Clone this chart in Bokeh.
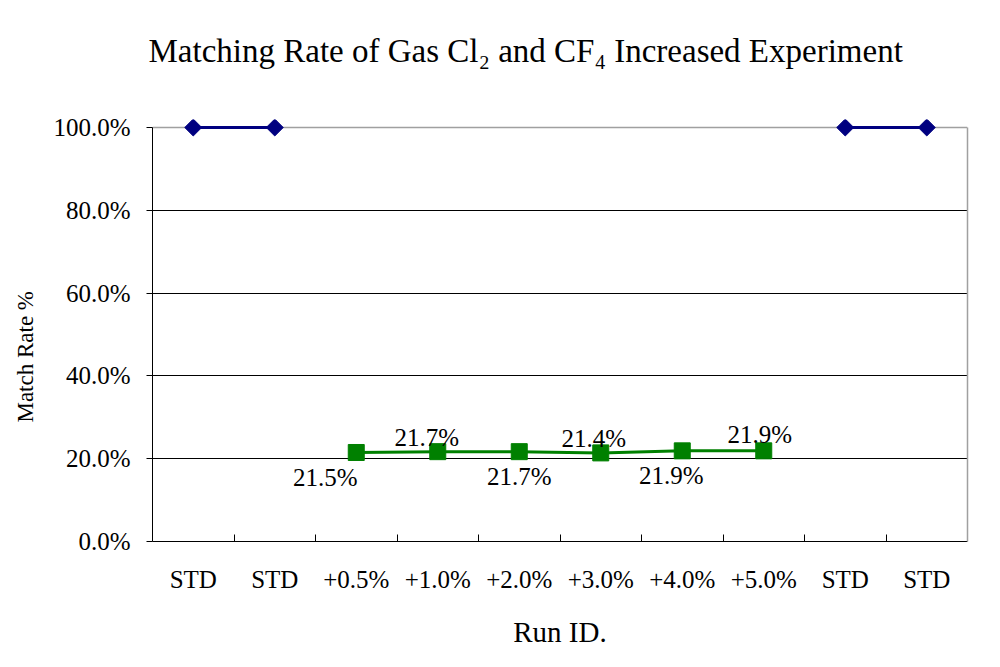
import math
from bokeh.plotting import figure
from bokeh.layouts import row
from bokeh.models import (Range1d, FixedTicker, NumeralTickFormatter, Span,
                          LinearAxis, ColumnDataSource)
from bokeh.core.properties import value
from bokeh.embed import file_html
from bokeh.resources import INLINE

# ---------------- data ----------------
title_text = "Matching Rate of Gas Cl\u2082 and CF\u2084 Increased Experiment"
y_title = "Match Rate %"
x_title = "Run ID."
categories = ["STD", "STD", "+0.5%", "+1.0%", "+2.0%", "+3.0%", "+4.0%", "+5.0%", "STD", "STD"]
std_rate = [1.0, 1.0, None, None, None, None, None, None, 1.0, 1.0]
gas_rate = [None, None, 0.215, 0.217, 0.217, 0.214, 0.219, 0.219, None, None]
y_ticks = [0.0, 0.2, 0.4, 0.6, 0.8, 1.0]

# label placement (style only): pixel offsets for the data labels
label_dx = [-31, -11, 0, -7, -11, -4]
label_dy = [25, -14, 25, -14, 25, -16]

FONT = "Liberation Serif"
NAVY = "#000080"
GREEN = "#008000"
GREY = "#a0a0a0"

xs = list(range(len(categories)))
nan = float("nan")
std_y = [nan if v is None else v for v in std_rate]
gas_y = [nan if v is None else v for v in gas_rate]

W, H = 984, 651
LAB_W = 40                # strip holding the vertical axis title
PLOT_H = 414.0            # pixels for 0..100 %
YPAD = 8 / PLOT_H
XMIN, XMAX = -0.5, len(categories) - 0.5

# ---- strip with the rotated y-axis title ----
lab = figure(width=LAB_W, height=H, output_backend="svg", toolbar_location=None,
             x_range=Range1d(0, LAB_W), y_range=Range1d(0, H),
             min_border=0, min_border_left=0, min_border_right=0,
             min_border_top=0, min_border_bottom=0)
lab.outline_line_color = None
lab.axis.visible = False
lab.grid.visible = False
lab.background_fill_color = "white"
lab.border_fill_color = "white"
lab.text(x=[25], y=[H - 366], text=[y_title], angle=math.pi / 2,
         text_font=value(FONT), text_font_size="23px", text_color="black",
         text_align="center", text_baseline="middle")

# ---- main chart ----
p = figure(width=W - LAB_W, height=H, output_backend="svg", toolbar_location=None,
           x_range=Range1d(XMIN, XMAX),
           y_range=Range1d(0, 1.0 + YPAD),
           min_border_left=152 - LAB_W, min_border_right=17,
           min_border_top=119, min_border_bottom=110)
p.background_fill_color = "white"
p.border_fill_color = "white"
p.outline_line_color = None

xa = p.below[0]
ya = p.left[0]

# invisible spacer between frame and title
spacer = LinearAxis(ticker=FixedTicker(ticks=[(XMIN + XMAX) / 2]), axis_line_color=None,
                    major_tick_line_color="white", minor_tick_line_color=None,
                    major_tick_in=0, major_tick_out=46, major_label_standoff=0,
                    major_label_text_font_size="0px",
                    major_label_overrides={(XMIN + XMAX) / 2: ""})
p.add_layout(spacer, "above")

# title
p.title.text = title_text
p.title.text_font = FONT
p.title.text_font_size = "33px"
p.title.text_font_style = "normal"
p.title.align = "left"
p.title.offset = -4
p.title.standoff = 10
p.title.text_color = "black"

# grid
p.xgrid.grid_line_color = None
p.ygrid.ticker = FixedTicker(ticks=[0.2, 0.4, 0.6, 0.8])
p.ygrid.grid_line_color = "black"
p.ygrid.grid_line_width = 1

# y axis
ya.ticker = FixedTicker(ticks=y_ticks)
ya.formatter = NumeralTickFormatter(format="0.0%")
ya.bounds = (0, 1.0)
ya.axis_line_color = "black"
ya.major_tick_in = 0
ya.major_tick_out = 6
ya.minor_tick_line_color = None
ya.major_label_standoff = 16
ya.major_label_text_font = FONT
ya.major_label_text_font_size = "25px"
ya.major_label_text_color = "black"

# x axis
xa.ticker = FixedTicker(ticks=xs, minor_ticks=[i + 0.5 for i in xs[:-1]])
xa.major_label_overrides = {i: c for i, c in zip(xs, categories)}
xa.axis_line_color = "black"
xa.major_tick_line_color = None
xa.minor_tick_line_color = "black"
xa.minor_tick_in = 7
xa.minor_tick_out = 0
xa.major_label_standoff = 18
xa.major_label_text_font = FONT
xa.major_label_text_font_size = "25px"
xa.major_label_text_color = "black"
xa.axis_label = x_title
xa.axis_label_text_font = FONT
xa.axis_label_text_font_size = "29px"
xa.axis_label_text_font_style = "normal"
xa.axis_label_text_color = "black"
xa.axis_label_standoff = 20

# frame: grey top and right edges
p.add_layout(Span(location=1.0, dimension="width", line_color=GREY, line_width=1.5,
                  level="underlay"))
ra = LinearAxis(bounds=(0, 1.0), ticker=FixedTicker(ticks=[]),
                axis_line_color=GREY, axis_line_width=1.5,
                major_tick_line_color=None, minor_tick_line_color=None,
                major_label_text_font_size="0px", major_label_standoff=0)
p.add_layout(ra, "right")

# series
p.line(xs, std_y, line_color=NAVY, line_width=3)
p.scatter(xs, std_y, marker="square", angle=math.pi / 4, size=12,
          fill_color=NAVY, line_color=NAVY)
p.line(xs, gas_y, line_color=GREEN, line_width=3)
p.scatter(xs, gas_y, marker="square", size=16, fill_color=GREEN, line_color=GREEN)

# data labels
lx = [x for x, v in zip(xs, gas_rate) if v is not None]
ly = [v for v in gas_rate if v is not None]
src = ColumnDataSource(dict(x=lx, y=ly, t=[f"{v * 100:.1f}%" for v in ly],
                            dx=label_dx, dy=label_dy))
p.text(x="x", y="y", text="t", x_offset="dx", y_offset="dy", source=src,
       text_font=value(FONT), text_font_size="25px", text_color="black",
       text_align="center", text_baseline="middle")

layout = row(lab, p, spacing=0)
open("out.html", "w").write(file_html(layout, INLINE))
